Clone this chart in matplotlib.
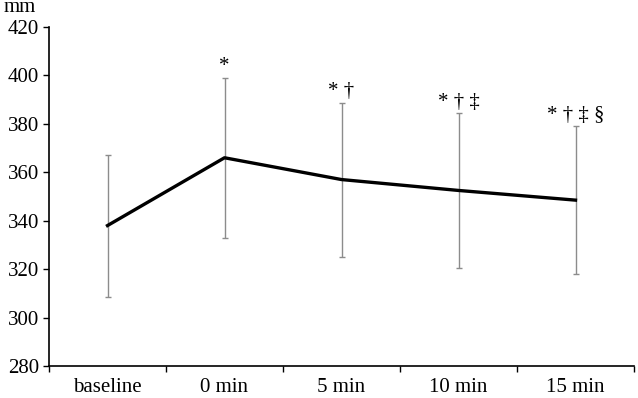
import matplotlib
matplotlib.use("Agg")
import matplotlib.pyplot as plt
import numpy as np

categories = ["baseline", "0 min", "5 min", "10 min", "15 min"]
mean_mm = [338.0, 366.0, 357.0, 352.5, 348.5]
sd_mm = [29.3, 33.0, 31.8, 32.0, 30.6]
marks = ["", "*", "* \u2020", "* \u2020 \u2021", "* \u2020 \u2021 \u00a7"]

plt.rcParams["font.family"] = ["Liberation Serif", "DejaVu Serif"]

fig = plt.figure(figsize=(6.38, 3.98), dpi=100)
ax = fig.add_axes([49 / 638, 1 - 366 / 398, 585 / 638, 339 / 398])

xx = np.arange(len(categories))
ax.errorbar(xx, mean_mm, yerr=sd_mm, fmt="none", ecolor="#8c8c8c",
            elinewidth=1.0, capsize=2, capthick=1.0, zorder=2)
ax.plot(xx, mean_mm, color="black", linewidth=2.4, zorder=3)

for x, m, s, txt in zip(xx, mean_mm, sd_mm, marks):
    if txt:
        ax.annotate(txt, (x, m + s), xytext=(0, 1), textcoords="offset points",
                    ha="center", va="bottom", fontsize=15)

ax.set_xlim(-0.5, len(categories) - 0.5)
ax.set_ylim(280, 420)
ax.set_yticks(np.arange(280, 421, 20))
ax.set_xticks(np.arange(-0.5, len(categories), 1.0))
ax.set_xticklabels([])
ax.set_xticks(xx, minor=True)
ax.set_xticklabels(categories, minor=True)
ax.tick_params(axis="x", which="minor", length=0, pad=9, labelsize=15)
ax.tick_params(axis="x", which="major", length=4, width=1.0, direction="out")
ax.tick_params(axis="y", length=4, width=1.0, direction="out", labelsize=15, pad=3)

for side in ("top", "right"):
    ax.spines[side].set_visible(False)
ax.spines["left"].set_linewidth(1.2)
ax.spines["bottom"].set_linewidth(1.2)

fig.text(4 / 638, 1 - 8 / 398, "mm", fontsize=15, ha="left", va="center")

fig.savefig("out.png", dpi=100)
